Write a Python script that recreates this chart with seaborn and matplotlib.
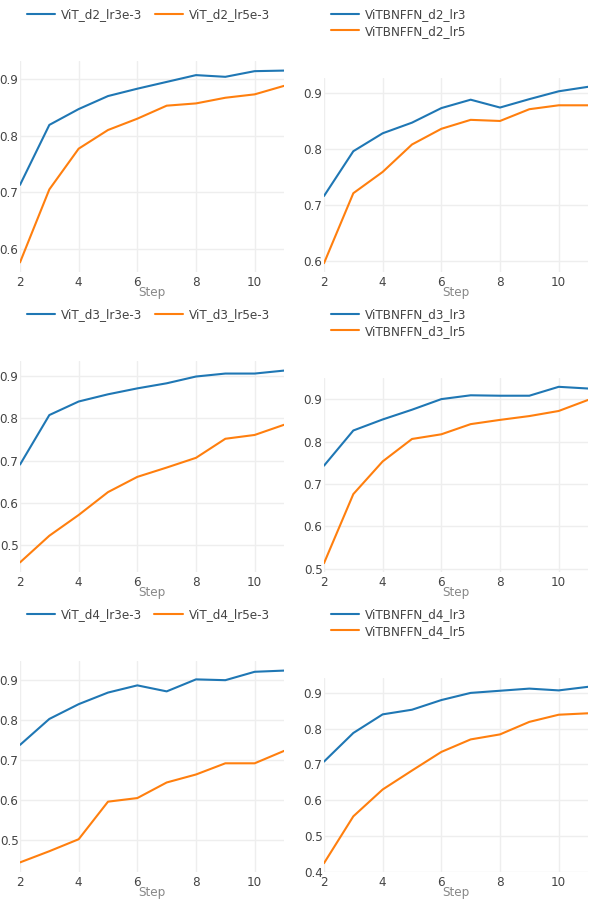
import numpy as np
import pandas as pd
import seaborn as sns
import matplotlib
matplotlib.use("Agg")
import matplotlib.pyplot as plt
from matplotlib.ticker import MultipleLocator

steps = [2, 3, 4, 5, 6, 7, 8, 9, 10, 11]

# accuracy curves, one pair per panel
vit_d2_lr3 = [0.713, 0.819, 0.847, 0.870, 0.883, 0.895, 0.907, 0.904, 0.914, 0.915]
vit_d2_lr5 = [0.576, 0.705, 0.777, 0.810, 0.830, 0.853, 0.857, 0.867, 0.873, 0.888]
bn_d2_lr3 = [0.716, 0.796, 0.828, 0.847, 0.873, 0.888, 0.874, 0.889, 0.903, 0.911]
bn_d2_lr5 = [0.596, 0.721, 0.759, 0.808, 0.836, 0.852, 0.850, 0.871, 0.878, 0.878]
vit_d3_lr3 = [0.691, 0.808, 0.840, 0.857, 0.871, 0.883, 0.899, 0.906, 0.906, 0.913]
vit_d3_lr5 = [0.460, 0.523, 0.572, 0.626, 0.662, 0.684, 0.707, 0.752, 0.761, 0.785]
bn_d3_lr3 = [0.743, 0.826, 0.852, 0.875, 0.900, 0.909, 0.908, 0.908, 0.929, 0.925]
bn_d3_lr5 = [0.513, 0.676, 0.753, 0.806, 0.817, 0.841, 0.851, 0.860, 0.872, 0.898]
vit_d4_lr3 = [0.737, 0.802, 0.839, 0.868, 0.886, 0.871, 0.901, 0.899, 0.920, 0.923]
vit_d4_lr5 = [0.443, 0.471, 0.501, 0.595, 0.604, 0.643, 0.663, 0.691, 0.691, 0.722]
bn_d4_lr3 = [0.708, 0.788, 0.840, 0.853, 0.880, 0.900, 0.906, 0.912, 0.907, 0.917]
bn_d4_lr5 = [0.424, 0.555, 0.630, 0.683, 0.735, 0.770, 0.784, 0.819, 0.839, 0.843]

panels = [
    (("ViT_d2_lr3e-3", vit_d2_lr3), ("ViT_d2_lr5e-3", vit_d2_lr5)),
    (("ViTBNFFN_d2_lr3", bn_d2_lr3), ("ViTBNFFN_d2_lr5", bn_d2_lr5)),
    (("ViT_d3_lr3e-3", vit_d3_lr3), ("ViT_d3_lr5e-3", vit_d3_lr5)),
    (("ViTBNFFN_d3_lr3", bn_d3_lr3), ("ViTBNFFN_d3_lr5", bn_d3_lr5)),
    (("ViT_d4_lr3e-3", vit_d4_lr3), ("ViT_d4_lr5e-3", vit_d4_lr5)),
    (("ViTBNFFN_d4_lr3", bn_d4_lr3), ("ViTBNFFN_d4_lr5", bn_d4_lr5)),
]

sns.set_style("white")
plt.rcParams["font.family"] = ["DejaVu Sans"]

W, H = 608, 900
fs = 8.64
fig = plt.figure(figsize=(W / 100, H / 100), dpi=100)

for i, (a, b) in enumerate(panels):
    row, col = divmod(i, 2)
    cx, cy = col * 304, row * 300
    top = 61 if col == 0 else 78
    left, right, bottom = 20, 284, 272
    ax = fig.add_axes([(cx + left) / W, 1 - (cy + bottom) / H,
                       (right - left) / W, (bottom - top) / H])

    df = pd.DataFrame({
        "Step": steps * 2,
        "acc": a[1] + b[1],
        "run": [a[0]] * len(steps) + [b[0]] * len(steps),
    })
    sns.lineplot(data=df, x="Step", y="acc", hue="run",
                 palette=["#1f77b4", "#ff7f0e"], linewidth=1.5, ax=ax)

    ax.margins(x=0, y=0.05)
    ax.xaxis.set_major_locator(MultipleLocator(2))
    ax.yaxis.set_major_locator(MultipleLocator(0.1))
    ax.grid(True, color="#eeeeee", linewidth=1)
    for s in ax.spines.values():
        s.set_visible(False)
    ax.tick_params(length=0, labelsize=fs, labelcolor="#444444")
    ax.tick_params(axis="x", pad=3)
    ax.tick_params(axis="y", pad=1)
    ax.set_ylabel("")
    ax.set_xlabel("Step", fontsize=fs, color="#888888", labelpad=-2)

    handles, labels = ax.get_legend_handles_labels()
    ax.get_legend().remove()
    ax.legend(handles, labels, loc="upper left",
              bbox_to_anchor=((cx + 27) / W, 1 - (cy + 8) / H),
              bbox_transform=fig.transFigure, ncol=2 if col == 0 else 1,
              frameon=False, fontsize=fs, handlelength=2.35,
              handletextpad=0.5, columnspacing=1.0, labelspacing=0.3,
              borderpad=0, borderaxespad=0, labelcolor="#444444")

fig.savefig("out.png", dpi=100, facecolor="white")
